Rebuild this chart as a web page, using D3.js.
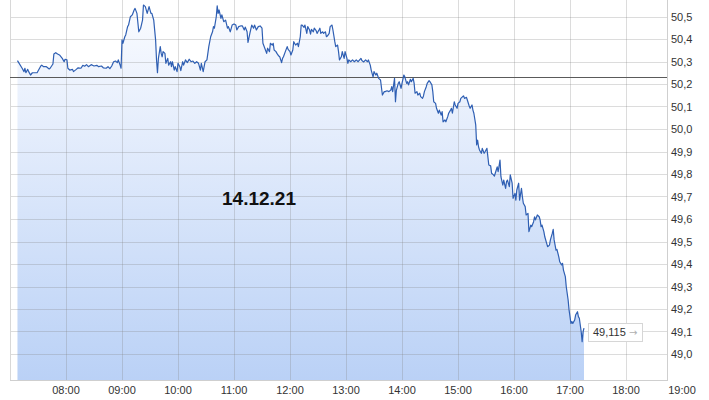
<!DOCTYPE html>
<html>
<head>
<meta charset="utf-8">
<script src="https://cdn.jsdelivr.net/npm/d3@7"></script>
<style>
  html, body { margin: 0; padding: 0; background: #fff; }
  svg { display: block; }
  text { font-family: "Liberation Sans", Arial, sans-serif; }
</style>
</head>
<body>
<svg id="chart" width="709" height="400"></svg>
<script>
// ---- data ----
const dateLabel = "14.12.21";
const previousClose = 50.23;
const lastPrice = 49.115;
const lastPriceLabel = "49,115";

// minutes after 07:00
const minutesAfterOpen = [
  8,13,15,16,17,19,20,22,24,29,33,34,36,39,42,43,46,47,49,51,53,56,58,59,61,62,64,67,68,71,
  73,76,78,80,82,84,87,90,93,95,98,100,103,105,107,109,111,113,115,116,118,119,120,121,123,124,126,127,129,131,
  133,134,136,138,140,142,143,145,147,149,151,152,154,156,157,158,159,161,162,163,164,166,167,169,170,172,173,174,176,177,
  179,180,182,183,185,186,188,190,192,194,196,198,200,202,204,205,207,208,209,211,213,215,217,218,219,221,222,223,224,226,
  227,229,231,233,234,236,238,240,242,243,245,247,249,251,252,254,255,257,259,261,262,264,266,268,270,271,273,275,276,278,
  279,281,282,283,285,286,288,289,291,292,293,295,297,298,300,301,303,304,306,308,309,311,312,313,315,316,318,319,321,322,
  323,325,326,328,329,331,332,333,335,336,338,339,340,342,343,345,346,348,349,351,352,353,355,356,358,359,361,362,363,365,
  367,369,371,373,376,377,379,381,383,384,386,387,389,390,392,393,395,397,399,401,402,404,406,408,409,410,412,413,414,416,
  417,419,420,422,423,425,426,427,429,430,432,433,434,436,437,439,440,442,443,444,446,447,449,450,452,453,454,456,457,459,
  460,462,463,464,466,467,469,470,472,473,474,476,477,479,480,482,483,485,486,487,489,490,492,493,495,496,497,499,500,501,
  502,503,505,506,508,509,511,512,513,515,516,518,519,521,522,523,525,526,528,529,531,532,533,535,536,538,539,541,542,543,
  545,546,548,549,550,552,553,555,556,558,559,561,562,563,565,567,568,569,570,572,573,575,576,578,579,581,582,583,585,586,
  588,589,591,592,593,595,596,598,599,601,602,603,605,606,608,609,610,612,613,614,615
];

const prices = [
  50.304,50.270,50.255,50.270,50.250,50.265,50.255,50.240,50.250,50.250,50.280,50.284,50.277,50.277,50.267,50.270,50.289,50.333,50.339,50.333,50.329,50.314,50.299,50.310,50.307,50.270,50.262,50.265,50.255,50.265,
  50.272,50.270,50.283,50.279,50.286,50.277,50.286,50.280,50.283,50.277,50.280,50.272,50.270,50.277,50.268,50.280,50.299,50.302,50.295,50.307,50.284,50.270,50.396,50.381,50.410,50.418,50.455,50.462,50.499,50.507,
  50.529,50.536,50.514,50.432,50.448,50.484,50.551,50.544,50.514,50.544,50.514,50.514,50.484,50.396,50.307,50.250,50.314,50.366,50.336,50.321,50.344,50.336,50.292,50.314,50.284,50.299,50.277,50.299,50.262,50.277,
  50.255,50.292,50.277,50.259,50.299,50.284,50.307,50.295,50.310,50.299,50.302,50.292,50.299,50.292,50.262,50.292,50.255,50.277,50.299,50.307,50.366,50.410,50.432,50.455,50.448,50.499,50.547,50.514,50.529,50.492,
  50.507,50.477,50.484,50.448,50.455,50.432,50.462,50.467,50.462,50.440,50.455,50.458,50.458,50.440,50.453,50.432,50.385,50.425,50.462,50.448,50.462,50.440,50.455,50.458,50.448,50.381,50.359,50.336,50.359,50.344,
  50.381,50.373,50.381,50.351,50.344,50.336,50.324,50.321,50.295,50.314,50.321,50.344,50.366,50.354,50.344,50.329,50.351,50.388,50.373,50.381,50.366,50.410,50.462,50.462,50.452,50.462,50.425,50.455,50.440,50.422,
  50.443,50.432,50.448,50.437,50.425,50.440,50.448,50.425,50.432,50.425,50.432,50.410,50.413,50.425,50.455,50.462,50.440,50.388,50.366,50.373,50.344,50.307,50.321,50.344,50.314,50.344,50.314,50.292,50.307,50.299,
  50.307,50.299,50.307,50.299,50.314,50.304,50.298,50.307,50.299,50.307,50.284,50.262,50.232,50.255,50.240,50.248,50.225,50.218,50.151,50.166,50.166,50.170,50.166,50.173,50.188,50.166,50.225,50.121,50.173,50.203,
  50.210,50.181,50.203,50.240,50.232,50.203,50.210,50.196,50.221,50.210,50.225,50.203,50.159,50.166,50.151,50.159,50.144,50.136,50.147,50.166,50.188,50.203,50.215,50.210,50.196,50.166,50.121,50.114,50.092,50.070,
  50.084,50.062,50.077,50.032,50.040,50.032,50.055,50.070,50.084,50.092,50.070,50.121,50.107,50.092,50.114,50.121,50.136,50.144,50.147,50.136,50.141,50.129,50.102,50.092,50.107,50.084,50.070,50.018,49.929,49.951,
  49.921,49.907,49.892,49.914,49.892,49.899,49.914,49.877,49.840,49.836,49.803,49.796,49.791,49.818,49.832,49.810,49.862,49.788,49.751,49.773,49.736,49.766,49.773,49.744,49.796,49.759,49.692,49.714,49.684,49.729,
  49.759,49.684,49.736,49.699,49.670,49.655,49.618,49.625,49.544,49.573,49.566,49.588,49.610,49.596,49.618,49.610,49.596,49.566,49.573,49.544,49.521,49.492,49.477,49.484,49.507,49.536,49.554,49.507,49.462,49.465,
  49.432,49.410,49.396,49.403,49.373,49.344,49.299,49.240,49.196,49.136,49.144,49.136,49.151,49.173,49.188,49.166,49.159,49.099,49.055,49.099,49.115
];

const yTickValues = [49.0,49.1,49.2,49.3,49.4,49.5,49.6,49.7,49.8,49.9,50.0,50.1,50.2,50.3,50.4,50.5];
const hourLabels = ["08:00","09:00","10:00","11:00","12:00","13:00","14:00","15:00","16:00","17:00","18:00","19:00"];

// ---- layout ----
const W = 709, H = 400;
const plot = { left: 10, right: 667, top: 0, bottom: 380 };

const base = new Date(2021, 11, 14, 7, 0);
const parseHM = d3.timeParse("%Y-%m-%d %H:%M");
const toDate = m => new Date(base.getTime() + m * 60000);

const x = d3.scaleTime()
  .domain([base, new Date(2021, 11, 14, 19, 0)])
  .range([10, 682]);
const y = d3.scaleLinear().domain([49.0, 50.5]).range([354, 16.5]);

const data = minutesAfterOpen.map((m, i) => ({ t: toDate(m), v: prices[i] }));

const svg = d3.select("#chart");
svg.append("rect").attr("width", W).attr("height", H).attr("fill", "#fff");

const defs = svg.append("defs");
const grad = defs.append("linearGradient")
  .attr("id", "areaGrad").attr("gradientUnits", "userSpaceOnUse")
  .attr("x1", 0).attr("y1", plot.top).attr("x2", 0).attr("y2", plot.bottom);
grad.append("stop").attr("offset", 0).attr("stop-color", "#fbfcff");
grad.append("stop").attr("offset", 1).attr("stop-color", "#bad1f6");

defs.append("clipPath").attr("id", "plotClip")
  .append("rect").attr("x", plot.left).attr("y", plot.top)
  .attr("width", plot.right - plot.left).attr("height", plot.bottom - plot.top);

// area
const area = d3.area().x(d => x(d.t)).y0(plot.bottom).y1(d => y(d.v)).curve(d3.curveLinear);
svg.append("path").datum(data).attr("d", area).attr("fill", "url(#areaGrad)")
  .attr("clip-path", "url(#plotClip)");

// grid
const hourDates = hourLabels.map(h => parseHM("2021-12-14 " + h));
const grid = svg.append("g").attr("clip-path", "url(#plotClip)");
grid.selectAll("line.h").data(yTickValues).enter().append("line")
  .attr("x1", plot.left).attr("x2", plot.right)
  .attr("y1", d => Math.round(y(d)) + 0.5).attr("y2", d => Math.round(y(d)) + 0.5)
  .attr("stroke", "rgba(130,130,130,0.28)").attr("stroke-width", 1);
grid.selectAll("line.v").data(hourDates).enter().append("line")
  .attr("x1", d => Math.round(x(d)) + 0.5).attr("x2", d => Math.round(x(d)) + 0.5)
  .attr("y1", plot.top).attr("y2", plot.bottom)
  .attr("stroke", "rgba(130,130,130,0.28)").attr("stroke-width", 1);

// frame
svg.append("line").attr("x1", plot.left + 0.5).attr("x2", plot.left + 0.5)
  .attr("y1", plot.top).attr("y2", plot.bottom).attr("stroke", "#d8d8d8");
svg.append("line").attr("x1", plot.right + 0.5).attr("x2", plot.right + 0.5)
  .attr("y1", plot.top).attr("y2", plot.bottom).attr("stroke", "#cfcfcf");
svg.append("line").attr("x1", plot.left).attr("x2", plot.right + 1)
  .attr("y1", plot.bottom + 0.5).attr("y2", plot.bottom + 0.5).attr("stroke", "#cfcfcf");

// previous close line
svg.append("line").attr("x1", plot.left).attr("x2", plot.right)
  .attr("y1", Math.round(y(previousClose)) + 0.5).attr("y2", Math.round(y(previousClose)) + 0.5)
  .attr("stroke", "#5a5a5a").attr("stroke-width", 1);

// price line
const line = d3.line().x(d => x(d.t)).y(d => y(d.v));
svg.append("path").datum(data).attr("d", line).attr("fill", "none")
  .attr("stroke", "#2f5fb3").attr("stroke-width", 1.2).attr("stroke-linejoin", "round");

// y labels
const fmt = v => d3.format(".1f")(v).replace(".", ",");
svg.append("g").selectAll("text").data(yTickValues).enter().append("text")
  .attr("x", plot.right + 4).attr("y", d => y(d) + 4)
  .attr("font-size", 11).attr("fill", "#333").text(fmt);

// x labels
svg.append("g").selectAll("text").data(hourDates).enter().append("text")
  .attr("x", d => x(d)).attr("y", 394).attr("text-anchor", "middle")
  .attr("font-size", 11).attr("fill", "#333")
  .text((d, i) => hourLabels[i]);

// date label
svg.append("text").attr("x", 259).attr("y", 205).attr("text-anchor", "middle")
  .attr("font-size", 19).attr("font-weight", "bold").attr("fill", "#111").text(dateLabel);

// last price tag
const last = data[data.length - 1];
const lx = x(last.t) + 4, ly = y(last.v);
const tag = svg.append("g");
tag.append("rect").attr("x", Math.round(lx) + 0.5).attr("y", Math.round(ly - 5) + 0.5)
  .attr("width", 54).attr("height", 18).attr("fill", "#fff").attr("stroke", "#d6d6d6");
tag.append("text").attr("x", lx + 5).attr("y", ly + 8).attr("font-size", 11)
  .attr("fill", "#333").text(lastPriceLabel);
tag.append("text").attr("x", lx + 41).attr("y", ly + 8).attr("font-size", 10)
  .style("font-family", "'DejaVu Sans', sans-serif")
  .attr("fill", "#b0b0b0").text("→");
</script>
</body>
</html>
